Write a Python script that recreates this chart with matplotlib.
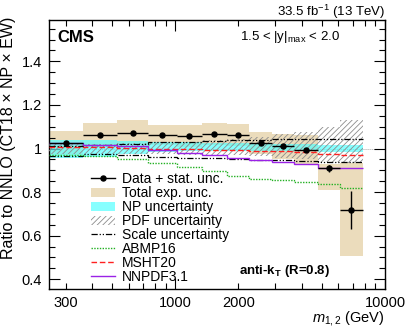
import numpy as np
import matplotlib
matplotlib.use('Agg')
import matplotlib.pyplot as plt
from matplotlib.patches import Patch
from matplotlib.lines import Line2D
from matplotlib.ticker import FixedLocator, FuncFormatter

plt.rcParams['font.family'] = ['Liberation Sans', 'DejaVu Sans']
plt.rcParams['mathtext.fontset'] = 'custom'
plt.rcParams['mathtext.rm'] = 'Liberation Sans'
plt.rcParams['mathtext.it'] = 'Liberation Sans:italic'
plt.rcParams['mathtext.bf'] = 'Liberation Sans:bold'
plt.rcParams['hatch.linewidth'] = 0.6

# Dijet mass bins (GeV)
edges = [250, 364, 530, 738, 1016, 1340, 1766, 2253, 2905, 3702, 4775, 6085, 7837]

# Data / NNLO (CT18 x NP x EW)
data = [1.025, 1.061, 1.073, 1.061, 1.056, 1.068, 1.063, 1.026, 1.011, 0.992, 0.909, 0.718]
stat = [0.004, 0.004, 0.004, 0.004, 0.004, 0.004, 0.004, 0.005, 0.005, 0.006, 0.017, 0.087]
exp_up = [0.054, 0.056, 0.059, 0.045, 0.05, 0.05, 0.05, 0.05, 0.056, 0.07, 0.02, 0.217]
exp_dn = [0.054, 0.056, 0.059, 0.045, 0.05, 0.05, 0.05, 0.05, 0.058, 0.07, 0.10, 0.213]

np_lo = [0.957, 0.963, 0.975, 0.985, 0.988, 0.99, 0.99, 0.99, 0.99, 0.988, 0.986, 0.986]
np_hi = [1.04, 1.04, 1.035, 1.03, 1.028, 1.025, 1.025, 1.022, 1.022, 1.02, 1.018, 1.018]

pdf_lo = [0.975, 0.975, 0.975, 0.975, 0.972, 0.97, 0.968, 0.965, 0.958, 0.95, 0.94, 0.935]
pdf_hi = [1.02, 1.022, 1.025, 1.028, 1.032, 1.037, 1.045, 1.055, 1.065, 1.075, 1.1, 1.13]

scale_up = [1.01, 1.015, 1.021, 1.03, 1.032, 1.036, 1.038, 1.04, 1.042, 1.044, 1.045, 1.045]
scale_dn = [0.965, 0.975, 0.972, 0.962, 0.958, 0.955, 0.952, 0.948, 0.945, 0.942, 0.94, 0.937]

abmp16 = [0.968, 0.965, 0.952, 0.935, 0.915, 0.895, 0.875, 0.86, 0.856, 0.848, 0.836, 0.82]
msht20 = [1.006, 1.005, 1.004, 1.0, 0.998, 0.995, 0.993, 0.99, 0.987, 0.984, 0.974, 0.968]
nnpdf31 = [1.024, 1.018, 1.012, 0.995, 0.98, 0.972, 0.955, 0.948, 0.937, 0.928, 0.912, 0.912]

edges = np.array(edges, dtype=float)
data = np.array(data)
centers = np.sqrt(edges[:-1] * edges[1:])
xerr = [centers - edges[:-1], edges[1:] - centers]


def step_vals(v):
    v = list(v)
    return v + [v[-1]]


tan = '#ebdcbc'
cyan = '#55ffff'

fig = plt.figure(figsize=(4.07, 3.31), dpi=100)
ax = fig.add_axes([49 / 407, 1 - 289 / 331, 336 / 407, 269 / 331])

ax.axhline(1.0, color='#aaaaaa', lw=0.7, ls=(0, (1, 1)), zorder=0)

# total experimental uncertainty boxes
for i in range(len(data)):
    ax.fill_between([edges[i], edges[i + 1]], data[i] - exp_dn[i], data[i] + exp_up[i],
                    color=tan, lw=0, zorder=1)

# NP uncertainty
ax.fill_between(edges, step_vals(np_lo), step_vals(np_hi), step='post',
                color=cyan, alpha=0.7, lw=0, zorder=2)

# PDF uncertainty
ax.fill_between(edges, step_vals(pdf_lo), step_vals(pdf_hi), step='post',
                facecolor='none', edgecolor='#8c8c8c', hatch='//////', lw=0, zorder=3)

# scale uncertainty
dashdotdot = (0, (5, 1.5, 1, 1.5, 1, 1.5))
ax.stairs(scale_up, edges, baseline=None, color='black', lw=0.9, ls=dashdotdot, zorder=4)
ax.stairs(scale_dn, edges, baseline=None, color='black', lw=0.9, ls=dashdotdot, zorder=4)

# alternative PDFs
ax.stairs(abmp16, edges, baseline=None, color='#22b022', lw=1.0, ls=(0, (1, 1)), zorder=5)
ax.stairs(msht20, edges, baseline=None, color='#ff2020', lw=1.0, ls=(0, (4, 2)), zorder=5)
ax.stairs(nnpdf31, edges, baseline=None, color='#9a22e6', lw=1.0, zorder=5)

# data
ax.errorbar(centers, data, yerr=stat, xerr=xerr, fmt='o', color='black', ms=3.6,
            elinewidth=1.0, capsize=0, zorder=6)

ax.set_xscale('log')
ax.set_xlim(250, 10000)
ax.set_ylim(0.355, 1.59)

ax.xaxis.set_major_locator(FixedLocator([1000, 10000]))
ax.xaxis.set_minor_locator(FixedLocator([300, 400, 500, 600, 700, 800, 900,
                                         2000, 3000, 4000, 5000, 6000, 7000, 8000, 9000]))
ax.xaxis.set_major_formatter(FuncFormatter(lambda v, p: '%d' % v))
ax.xaxis.set_minor_formatter(FuncFormatter(lambda v, p: '%d' % v if v in (300, 2000) else ''))
ax.yaxis.set_major_locator(FixedLocator([0.4, 0.6, 0.8, 1.0, 1.2, 1.4]))
ax.yaxis.set_minor_locator(FixedLocator(np.arange(0.35, 1.6, 0.05)))
ax.yaxis.set_major_formatter(FuncFormatter(lambda v, p: '1' if abs(v - 1) < 1e-6 else '%.1f' % v))

ax.tick_params(which='both', direction='in', top=True, right=True, labelsize=10.5, width=0.8)
ax.tick_params(which='major', length=8, pad=5)
ax.tick_params(which='minor', length=4, pad=5)
for s in ax.spines.values():
    s.set_linewidth(1.0)

fig.text(385 / 407, 1 - 318 / 331, r'$m_{1,2}$ (GeV)', fontsize=10.5, ha='right', va='center')
fig.text(9 / 407, 1 - 17 / 331, 'Ratio to NNLO (CT18 \u00d7 NP \u00d7 EW)', rotation=90,
         ha='center', va='top', fontsize=11.5)

ax.text(0.024, 0.935, 'CMS', transform=ax.transAxes, fontsize=12, fontweight='bold',
        ha='left', va='center')
ax.text(0.568, 0.937, r'1.5 < |y|$_{\mathrm{max}}$ < 2.0', transform=ax.transAxes, fontsize=9.5,
        ha='left', va='center')
ax.text(0.565, 0.068, r'anti-k$_{\mathbf{T}}$ (R=0.8)', transform=ax.transAxes, fontsize=9.5,
        fontweight='bold', ha='left', va='center')
fig.text(385 / 407, 1 - 12 / 331, r'33.5 fb$^{-1}$ (13 TeV)', fontsize=9.5, ha='right', va='center')

handles = [
    Line2D([], [], color='black', marker='o', ms=3.6, lw=1.0),
    Patch(facecolor=tan, edgecolor='none'),
    Patch(facecolor=cyan, alpha=0.7, edgecolor='none'),
    Patch(facecolor='none', edgecolor='#8c8c8c', hatch='//////', lw=0),
    Line2D([], [], color='black', lw=0.9, ls=dashdotdot),
    Line2D([], [], color='#22b022', lw=1.0, ls=(0, (1, 1))),
    Line2D([], [], color='#ff2020', lw=1.0, ls=(0, (4, 2))),
    Line2D([], [], color='#9a22e6', lw=1.0),
]
labels = ['Data + stat. unc.', 'Total exp. unc.', 'NP uncertainty', 'PDF uncertainty',
          'Scale uncertainty', 'ABMP16', 'MSHT20', 'NNPDF3.1']
ax.legend(handles, labels, loc='upper left', bbox_to_anchor=(0.125, 0.434), frameon=False,
          fontsize=10, handlelength=1.7, handleheight=0.7, handletextpad=0.5,
          labelspacing=0.0, borderpad=0, borderaxespad=0)

fig.savefig('out.png', dpi=100)
